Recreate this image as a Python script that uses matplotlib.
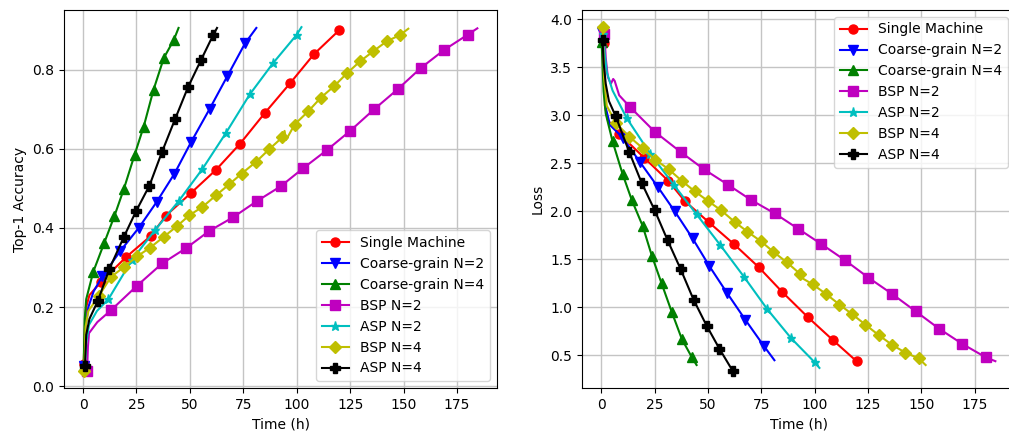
import matplotlib
matplotlib.use('Agg')
import matplotlib.pyplot as plt

labels = ['Single Machine', 'Coarse-grain N=2', 'Coarse-grain N=4', 'BSP N=2',
          'ASP N=2', 'BSP N=4', 'ASP N=4']

# ---- Top-1 accuracy vs time (h)
acc_t = [
    [0.3, 1.0, 1.5, 3, 8.3, 20.1, 31.6, 38.8, 50.5, 62.3, 73.4, 85.2, 97, 108.1, 120],
    [0.6, 1.2, 2.5, 5, 9.1, 17.5, 26.1, 34.4, 42.8, 50.6, 59.2, 67.5, 75.8, 81.1],
    [0.3, 0.8, 1.5, 4.8, 10, 14.7, 19.1, 24.1, 28.4, 33, 37.8, 42.5, 44.7],
    [1.9, 2.3, 2.8, 6.7, 13.1, 25.3, 37, 48.3, 59, 70.3, 81.2, 92.5, 103.1, 114, 125,
     136.1, 147.2, 158.1, 169.1, 180, 184.5],
    [0.8, 1.5, 2.8, 6.5, 11.9, 23, 33.8, 44.8, 55.9, 66.9, 78, 88.9, 100, 102.2],
    [0.6, 1.2, 2.5, 7.3, 13.1, 19.1, 25.3, 31.4, 37.7, 43.9, 49.8, 55.9, 62.2, 68.4, 74.2,
     80.8, 87, 93.3, 94.3, 95, 99, 105.3, 111.3, 117.5, 123.6, 129.7, 135.8, 142, 148.3, 152.2],
    [0.9, 1.5, 3, 6.9, 12.3, 19.1, 24.8, 31.1, 36.9, 43.1, 49.1, 55.3, 60.8, 62.7],
]
acc_v = [
    [0.055, 0.17, 0.20, 0.23, 0.263, 0.326, 0.379, 0.431, 0.488, 0.547, 0.612, 0.691, 0.766, 0.839, 0.90],
    [0.05, 0.15, 0.2, 0.24, 0.278, 0.342, 0.40, 0.465, 0.537, 0.617, 0.70, 0.783, 0.866, 0.905],
    [0.05, 0.17, 0.22, 0.289, 0.363, 0.43, 0.498, 0.584, 0.656, 0.749, 0.829, 0.875, 0.905],
    [0.039, 0.10, 0.134, 0.162, 0.192, 0.254, 0.31, 0.349, 0.392, 0.427, 0.467, 0.505, 0.551,
     0.596, 0.645, 0.699, 0.75, 0.804, 0.85, 0.888, 0.904],
    [0.045, 0.11, 0.155, 0.19, 0.22, 0.32, 0.395, 0.468, 0.549, 0.64, 0.737, 0.816, 0.888, 0.907],
    [0.039, 0.15, 0.19, 0.227, 0.276, 0.301, 0.328, 0.35, 0.377, 0.404, 0.432, 0.453, 0.482, 0.51,
     0.537, 0.566, 0.598, 0.629, 0.645, 0.622, 0.661, 0.694, 0.729, 0.758, 0.791, 0.821, 0.846,
     0.871, 0.887, 0.903],
    [0.05, 0.13, 0.17, 0.215, 0.296, 0.377, 0.442, 0.507, 0.591, 0.675, 0.755, 0.825, 0.886, 0.905],
]
acc_mk = [
    [0] + list(range(4, 15)),
    [0] + list(range(4, 13)),
    [0] + list(range(3, 12)),
    [0] + list(range(4, 20)),
    [0] + list(range(4, 13)),
    [0] + list(range(3, 18)) + list(range(20, 29)),
    [0] + list(range(3, 13)),
]

# ---- Loss vs time (h)
loss_t = [
    [1.3, 1.6, 3, 8.3, 20, 31.3, 39, 50.2, 62.1, 73.7, 84.8, 96.7, 108.5, 119.6],
    [0.3, 1, 2, 4, 9.9, 18.2, 26.6, 34.4, 42.7, 50.6, 58.9, 67.5, 76.1, 81.1],
    [0.1, 1, 2, 5.2, 9.9, 14.2, 19.3, 23.6, 28.2, 33, 37.7, 42.4, 44.6],
    [1.4, 2, 3, 4.4, 5.5, 6.2, 8.3, 13.3, 25, 37.1, 48, 59.2, 70.1, 81.2, 92.2, 103.1,
     114.3, 125.2, 136.3, 147.3, 158.2, 169.2, 180.2, 184.7],
    [0.8, 1.5, 2.5, 5.2, 11.9, 22.9, 33.8, 44.6, 55.7, 66.8, 77.8, 88.9, 99.9, 102.2],
    [0.6, 1.2, 2.5, 6.8, 13, 19.3, 25.2, 31.5, 37.6, 43.7, 49.9, 56.2, 62.5, 68.4, 74.7,
     80.6, 86.9, 93.1, 93.8, 94.5, 99.1, 105.3, 111.6, 117.5, 123.8, 130.1, 136.3, 142.4,
     148.7, 152],
    [0.5, 1, 2, 3.5, 6.7, 13, 18.8, 25, 31, 37.1, 43.2, 49.3, 55.3, 61.5],
]
loss_v = [
    [3.75, 3.1, 2.95, 2.81, 2.56, 2.32, 2.11, 1.89, 1.66, 1.42, 1.16, 0.90, 0.66, 0.44],
    [3.87, 3.4, 3.08, 2.9, 2.77, 2.51, 2.25, 2.0, 1.72, 1.43, 1.15, 0.87, 0.60, 0.45],
    [3.76, 3.25, 3.02, 2.73, 2.39, 2.12, 1.85, 1.54, 1.25, 0.95, 0.67, 0.48, 0.40],
    [3.85, 3.6, 3.4, 3.33, 3.38, 3.36, 3.21, 3.09, 2.83, 2.62, 2.44, 2.28, 2.12, 1.98, 1.82,
     1.66, 1.49, 1.31, 1.14, 0.96, 0.78, 0.62, 0.48, 0.44],
    [3.85, 3.65, 3.45, 3.26, 2.97, 2.60, 2.28, 1.97, 1.65, 1.32, 0.98, 0.68, 0.43, 0.37],
    [3.92, 3.4, 3.1, 2.92, 2.78, 2.66, 2.54, 2.44, 2.32, 2.21, 2.11, 2.01, 1.89, 1.79, 1.69,
     1.58, 1.47, 1.35, 1.40, 1.30, 1.24, 1.14, 1.03, 0.93, 0.82, 0.71, 0.61, 0.53, 0.47, 0.40],
    [3.79, 3.55, 3.33, 3.15, 2.99, 2.62, 2.30, 2.01, 1.70, 1.40, 1.08, 0.81, 0.57, 0.34],
]
loss_mk = [
    [0] + list(range(3, 14)),
    [0] + list(range(4, 13)),
    [0] + list(range(3, 12)),
    [0] + list(range(7, 23)),
    [0] + list(range(4, 13)),
    [0] + list(range(3, 18)) + list(range(20, 29)),
    [0] + list(range(4, 14)),
]

styles = [('r', 'o'), ('b', 'v'), ('g', '^'), ('m', 's'), ('c', '*'), ('y', 'D'), ('k', 'P')]

fig = plt.figure(figsize=(10.09, 4.33), dpi=100)
ax1 = fig.add_axes([0.0634, 0.104, 0.4292, 0.873])
ax2 = fig.add_axes([0.5768, 0.104, 0.4292, 0.873])

for i in range(len(labels)):
    c, m = styles[i]
    ax1.plot(acc_t[i], acc_v[i], color=c, marker=m, markersize=6.5, markevery=acc_mk[i], label=labels[i])
    ax2.plot(loss_t[i], loss_v[i], color=c, marker=m, markersize=6.5, markevery=loss_mk[i], label=labels[i])

for ax in (ax1, ax2):
    ax.set_xlabel('Time (h)')
    ax.set_xticks([0, 25, 50, 75, 100, 125, 150, 175])
    ax.grid(True, color='#c4c4c4', linewidth=1.0)
    ax.set_axisbelow(True)

ax1.set_ylabel('Top-1 Accuracy')
ax1.legend(loc='lower right')
ax2.set_ylabel('Loss')
ax2.legend(loc='upper right')

fig.savefig('out.png', dpi=100)
